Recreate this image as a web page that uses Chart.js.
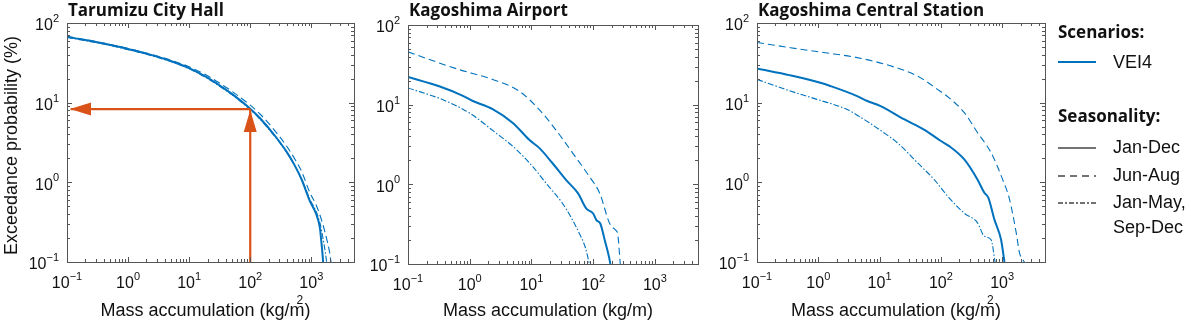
<!DOCTYPE html>
<html>
<head>
<meta charset="utf-8">
<script src="https://cdn.jsdelivr.net/npm/chart.js@4"></script>
<style>
  body { margin: 0; background: #fff; }
  #wrap { position: relative; width: 1191px; height: 329px; overflow: hidden; }
  #wrap canvas { position: absolute; left: 0; top: 0; }
  .lg { position: absolute; font-family: "Liberation Sans", Arial, sans-serif; font-size: 18px; color: #111; line-height: 20px; white-space: nowrap; }
  .lg.head { font-family: "Open Sans", sans-serif; font-weight: bold; font-size: 17px; }
  .lg svg { display: block; }
</style>
</head>
<body>
<div id="wrap">
  <canvas id="c1" width="1191" height="329"></canvas>
  <canvas id="c2" width="1191" height="329"></canvas>
  <canvas id="c3" width="1191" height="329"></canvas>

  <div class="lg head" style="left:1058px; top:22px;">Scenarios:</div>
  <div class="lg" style="left:1058px; top:57px;"><svg width="40" height="10"><line x1="0" y1="5" x2="38" y2="5" stroke="#0072BD" stroke-width="2"/></svg></div>
  <div class="lg" style="left:1113px; top:52px;">VEI4</div>

  <div class="lg head" style="left:1058px; top:106px;">Seasonality:</div>
  <div class="lg" style="left:1058px; top:143px;"><svg width="40" height="10"><line x1="0" y1="5" x2="38" y2="5" stroke="#444" stroke-width="1.5"/></svg></div>
  <div class="lg" style="left:1113px; top:137px;">Jan-Dec</div>
  <div class="lg" style="left:1058px; top:171px;"><svg width="40" height="10"><line x1="0" y1="5" x2="38" y2="5" stroke="#444" stroke-width="1.5" stroke-dasharray="7,5"/></svg></div>
  <div class="lg" style="left:1113px; top:165px;">Jun-Aug</div>
  <div class="lg" style="left:1058px; top:198px;"><svg width="40" height="10"><line x1="0" y1="5" x2="38" y2="5" stroke="#444" stroke-width="1.5" stroke-dasharray="5,2,2,2"/></svg></div>
  <div class="lg" style="left:1113px; top:192px;">Jan-May,</div>
  <div class="lg" style="left:1113px; top:217px;">Sep-Dec</div>
</div>

<script>
// tick decades
const xDecades = [-1, 0, 1, 2, 3];
const yDecades = [-1, 0, 1, 2];
const xMin = 0.1, xMax = 5000;
const yMin = 0.1, yMax = 100;

// Tarumizu City Hall
const taruJanDecX = [0.1, 0.2, 0.5, 1, 2, 5, 10, 20, 30, 50, 100, 150, 250, 400, 540, 700, 940, 1200, 1380, 1450, 1520, 1560];
const taruJanDecY = [67, 61.2, 53.3, 47.1, 41.3, 33.4, 27.2, 20.6, 16.9, 12.9, 8.4, 6.2, 3.9, 2.38, 1.61, 1.07, 0.59, 0.40, 0.27, 0.19, 0.13, 0.1];
const taruJunAugX = [0.1, 0.2, 0.5, 1, 2, 5, 10, 20, 30, 50, 100, 150, 250, 400, 540, 700, 940, 1200, 1500, 1800, 2000, 2100];
const taruJunAugY = [68, 62, 54, 47.8, 42, 34.2, 28.2, 21.8, 18, 13.9, 9.3, 7.0, 4.5, 2.8, 1.95, 1.35, 0.75, 0.52, 0.32, 0.19, 0.13, 0.1];
const taruOtherX = [0.1, 0.2, 0.5, 1, 2, 5, 10, 20, 30, 50, 100, 150, 250, 400, 540, 700, 940, 1200, 1400, 1550, 1700, 1780];
const taruOtherY = [66, 60, 52.5, 46.3, 40.5, 32.8, 26.6, 20.1, 16.5, 12.6, 8.2, 6.0, 3.8, 2.35, 1.6, 1.08, 0.62, 0.43, 0.3, 0.2, 0.13, 0.1];

// Kagoshima Airport
const airJanDecX = [0.1, 0.32, 0.76, 1.1, 2.35, 5, 9.3, 13.5, 22, 36.6, 57, 77, 100, 113, 131, 154, 181, 190];
const airJanDecY = [22.3, 17, 13.0, 11.2, 8.8, 5.9, 3.6, 2.85, 1.84, 1.13, 0.77, 0.5, 0.43, 0.355, 0.32, 0.2, 0.122, 0.1];
const airJunAugX = [0.1, 0.3, 0.67, 2.35, 6.4, 13.5, 25, 47, 87, 128, 186, 238, 250, 275];
const airJunAugY = [46, 34, 27.6, 20.7, 14.7, 8.6, 4.8, 2.45, 1.25, 0.77, 0.32, 0.26, 0.24, 0.1];
const airOtherX = [0.1, 0.36, 0.98, 2.67, 5, 10.5, 17.3, 32, 47, 60, 75, 87];
const airOtherY = [16.2, 11.6, 7.9, 4.4, 3.0, 1.67, 1.03, 0.575, 0.35, 0.24, 0.16, 0.1];

// Kagoshima Central Station
const centJanDecX = [0.1, 0.35, 1.08, 1.57, 4.3, 6.3, 10.4, 25, 53, 100, 137, 241, 397, 512, 596, 748, 960, 1090];
const centJanDecY = [26.8, 22, 17.8, 16.2, 12.1, 10.5, 9.06, 6.2, 4.6, 3.3, 2.85, 1.94, 1.08, 0.74, 0.64, 0.34, 0.19, 0.1];
const centJunAugX = [0.1, 0.35, 1.22, 4.3, 15, 41.5, 88, 146, 241, 397, 660, 1020, 1320, 1700, 1920, 2300];
const centJunAugY = [57, 49, 42.6, 36.8, 29, 21.6, 14.7, 11, 7.5, 4.2, 2.35, 1.08, 0.61, 0.23, 0.13, 0.1];
const centOtherX = [0.1, 0.35, 0.95, 2.95, 5.5, 11.7, 19.5, 41.5, 78, 129, 241, 397, 512, 660, 767];
const centOtherY = [19.6, 14, 11, 8.2, 6.2, 4.2, 3.14, 1.76, 1.08, 0.67, 0.41, 0.31, 0.21, 0.19, 0.1];

// reading example on the Tarumizu panel
const arrowMass = 100;
const arrowProb = 8.3;

const blue = '#0072BD';
const orange = '#D95319';
const tickFont = '"Liberation Sans", Arial, sans-serif';

function pts(xs, ys) {
    return xs.map((x, i) => ({ x: x, y: ys[i] }));
}

function seriesSets(janDec, junAug, other) {
    return [
        { data: janDec, borderColor: blue, borderWidth: 2, cubicInterpolationMode: 'monotone' },
        { data: junAug, borderColor: blue, borderWidth: 1.1, borderDash: [7, 4], cubicInterpolationMode: 'monotone' },
        { data: other, borderColor: blue, borderWidth: 1.1, borderDash: [6, 2, 1.5, 2], cubicInterpolationMode: 'monotone' }
    ];
}

function drawAxes(chart, o) {
    const ctx = chart.ctx;
    const a = chart.chartArea;
    const xs = chart.scales.x, ys = chart.scales.y;
    ctx.save();
    ctx.strokeStyle = '#555';
    ctx.lineWidth = 1;
    ctx.beginPath();
    // minor and major ticks, inside, all four sides
    for (let d = -1; d <= 3; d++) {
        for (let m = 1; m <= 9; m++) {
            const v = m * Math.pow(10, d);
            if (v > xMax) break;
            const px = Math.round(xs.getPixelForValue(v)) + 0.5;
            const len = m === 1 ? 5 : 3;
            ctx.moveTo(px, a.bottom); ctx.lineTo(px, a.bottom - len);
            ctx.moveTo(px, a.top); ctx.lineTo(px, a.top + len);
        }
    }
    for (let d = -1; d <= 2; d++) {
        for (let m = 1; m <= 9; m++) {
            const v = m * Math.pow(10, d);
            if (v > yMax) break;
            const py = Math.round(ys.getPixelForValue(v)) + 0.5;
            const len = m === 1 ? 5 : 3;
            ctx.moveTo(a.left, py); ctx.lineTo(a.left + len, py);
            ctx.moveTo(a.right, py); ctx.lineTo(a.right - len, py);
        }
    }
    ctx.stroke();
    ctx.strokeRect(Math.round(a.left) + 0.5, Math.round(a.top) + 0.5, Math.round(a.right - a.left), Math.round(a.bottom - a.top));

    // tick labels 10^n
    ctx.fillStyle = '#111';
    ctx.textBaseline = 'middle';
    xDecades.forEach(d => {
        const px = xs.getPixelForValue(Math.pow(10, d));
        const ex = String(d).replace('-', '\u2212');
        ctx.font = '16px ' + tickFont;
        const w1 = ctx.measureText('10').width;
        ctx.font = '11px ' + tickFont;
        const w2 = ctx.measureText(ex).width;
        const x0 = px - (w1 + w2) / 2;
        ctx.textAlign = 'left';
        ctx.font = '16px ' + tickFont;
        ctx.fillText('10', x0, a.bottom + 22);
        ctx.font = '11px ' + tickFont;
        ctx.fillText(ex, x0 + w1, a.bottom + 15);
    });
    yDecades.forEach(d => {
        const py = ys.getPixelForValue(Math.pow(10, d));
        const ex = String(d).replace('-', '\u2212');
        const right = a.left - 8;
        ctx.textAlign = 'right';
        ctx.font = '11px ' + tickFont;
        const w2 = ctx.measureText(ex).width;
        ctx.fillText(ex, right, py - 4);
        ctx.font = '16px ' + tickFont;
        ctx.fillText('10', right - w2, py + 3);
    });

    // axis label
    ctx.font = '18px ' + tickFont;
    ctx.textAlign = 'center';
    const cx = (a.left + a.right) / 2 - 5;
    const lbl = 'Mass accumulation (kg/m)';
    ctx.fillText(lbl, cx, 311);
    if (o.squared) {
        const full = ctx.measureText(lbl).width;
        const mEnd = cx - full / 2 + ctx.measureText('Mass accumulation (kg/m').width;
        ctx.font = '12px ' + tickFont;
        ctx.textAlign = 'left';
        ctx.fillText('2', mEnd - 8, 301);
    }
    if (o.yLabel) {
        ctx.save();
        ctx.translate(12, (a.top + a.bottom) / 2 + 3);
        ctx.rotate(-Math.PI / 2);
        ctx.font = '18px ' + tickFont;
        ctx.textAlign = 'center';
        ctx.fillText('Exceedance probability (%)', 0, 0);
        ctx.restore();
    }

    // panel title
    ctx.font = 'bold 17px "Open Sans", sans-serif';
    ctx.textAlign = 'left';
    ctx.fillText(o.title, a.left + 1, 11);

    // arrow heads
    if (o.arrow) {
        const ax = xs.getPixelForValue(arrowMass);
        const ay = ys.getPixelForValue(arrowProb);
        ctx.fillStyle = orange;
        ctx.beginPath();
        ctx.moveTo(ax, ay + 1);
        ctx.lineTo(ax - 6.5, ay + 23);
        ctx.lineTo(ax + 6.5, ay + 23);
        ctx.closePath();
        ctx.fill();
        const lx = a.left + 3;
        ctx.beginPath();
        ctx.moveTo(lx, ay);
        ctx.lineTo(lx + 21, ay - 6.5);
        ctx.lineTo(lx + 21, ay + 6.5);
        ctx.closePath();
        ctx.fill();
    }
    ctx.restore();
}

const axesPlugin = {
    id: 'axesBox',
    afterDatasetsDraw(chart, args, opts) {
        drawAxes(chart, opts);
    }
};

function makePanel(id, pad, panelOpts, datasets) {
    return new Chart(document.getElementById(id), {
        type: 'scatter',
        data: {
            datasets: datasets.map(ds => Object.assign({ showLine: true, pointRadius: 0, fill: false }, ds))
        },
        options: {
            responsive: false,
            animation: false,
            events: [],
            layout: { padding: pad },
            plugins: {
                legend: { display: false },
                tooltip: { enabled: false },
                axesBox: panelOpts
            },
            scales: {
                x: { type: 'logarithmic', min: xMin, max: xMax, display: false },
                y: { type: 'logarithmic', min: yMin, max: yMax, display: false }
            }
        },
        plugins: [axesPlugin]
    });
}

const arrowSets = [
    { data: pts([arrowMass, arrowMass], [yMin, arrowProb]), borderColor: orange, borderWidth: 2.2 },
    { data: pts([arrowMass, 0.115], [arrowProb, arrowProb]), borderColor: orange, borderWidth: 2.2 }
];

makePanel('c1', { left: 67, right: 1191 - 354, top: 23, bottom: 329 - 262 },
    { title: 'Tarumizu City Hall', yLabel: true, squared: true, arrow: true },
    arrowSets.concat(seriesSets(pts(taruJanDecX, taruJanDecY), pts(taruJunAugX, taruJunAugY), pts(taruOtherX, taruOtherY))));

makePanel('c2', { left: 408, right: 1191 - 698, top: 25, bottom: 329 - 264 },
    { title: 'Kagoshima Airport', yLabel: false, squared: false, arrow: false },
    seriesSets(pts(airJanDecX, airJanDecY), pts(airJunAugX, airJunAugY), pts(airOtherX, airOtherY)));

makePanel('c3', { left: 757, right: 1191 - 1045, top: 23, bottom: 329 - 262 },
    { title: 'Kagoshima Central Station', yLabel: false, squared: true, arrow: false },
    seriesSets(pts(centJanDecX, centJanDecY), pts(centJunAugX, centJunAugY), pts(centOtherX, centOtherY)));
</script>
</body>
</html>
